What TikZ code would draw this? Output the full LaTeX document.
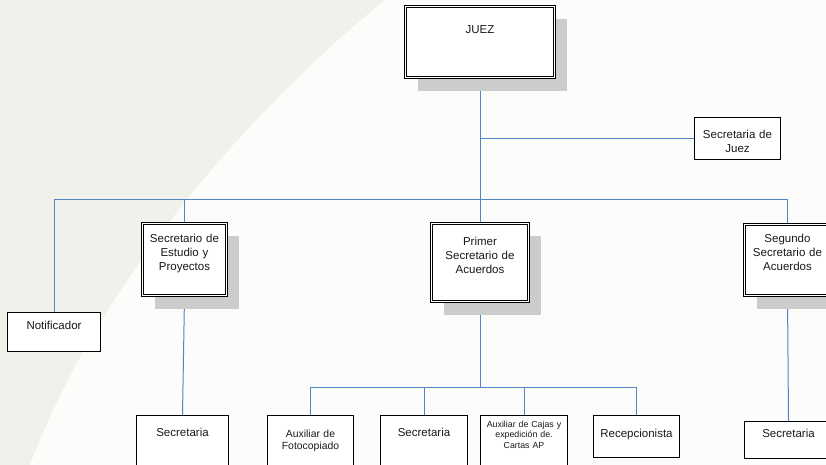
\documentclass[tikz,border=0pt]{standalone}
\usepackage{fontspec}
\setmainfont{Liberation Sans}
\usetikzlibrary{shadows}
\definecolor{bggray}{HTML}{F1F1EB}
\definecolor{bgwhite}{HTML}{FCFCFA}
\definecolor{connblue}{HTML}{5384C8}
\definecolor{shadowgray}{HTML}{CCCCCC}
\pgfdeclarelayer{back}
\pgfdeclarelayer{lines}
\pgfsetlayers{back,lines,main}
\tikzset{
  sbox/.style={rectangle, draw=black, line width=0.8pt, fill=white, inner sep=0pt},
  dbox/.style={rectangle, draw=black, line width=0.7pt, double=white, double distance=1.4pt,
    fill=white, inner sep=0pt,
    drop shadow={shadow xshift=12.5pt, shadow yshift=-13pt, fill=shadowgray, opacity=1}},
  conn/.style={draw=connblue, line width=1pt},
  txt/.style={inner sep=0pt, align=center, anchor=base, text=black!90},
  big/.style={font=\fontsize{11.5}{14}\selectfont},
  midf/.style={font=\fontsize{10.4}{12.5}\selectfont},
  smallf/.style={font=\fontsize{8.8}{10.5}\selectfont},
}
\begin{document}
\begin{tikzpicture}[x=1pt,y=-1pt]
\useasboundingbox (0,0) rectangle (826,465);
\begin{pgfonlayer}{back}
  \fill[bggray] (0,0) rectangle (826,465);
  \fill[bgwhite] (385,0) .. controls (250,110) and (100,280) .. (30,465) -- (826,465) -- (826,0) -- cycle;
\end{pgfonlayer}

% boxes
\node[dbox, minimum width=149.2pt, minimum height=71.2pt] (juez) at (480,42) {};
\node[sbox, minimum width=86.2pt, minimum height=42.2pt] (sjuez) at (737.5,138.5) {};
\node[dbox, minimum width=84.2pt, minimum height=72.2pt] (estudio) at (184.5,259.5) {};
\node[dbox, minimum width=97.2pt, minimum height=78.2pt] (primer) at (480,262.5) {};
\node[dbox, minimum width=86.2pt, minimum height=71.2pt] (segundo) at (787.5,260) {};
\node[sbox, minimum width=93.2pt, minimum height=39.2pt] (notif) at (54,332) {};
\node[sbox, minimum width=92.2pt, minimum height=59.2pt] (sec1) at (182.5,445) {};
\node[sbox, minimum width=86.2pt, minimum height=59.2pt] (foto) at (310.5,445) {};
\node[sbox, minimum width=87.2pt, minimum height=59.2pt] (sec2) at (424,445) {};
\node[sbox, minimum width=87.2pt, minimum height=59.2pt] (cajas) at (524,445) {};
\node[sbox, minimum width=86.2pt, minimum height=42.2pt] (recep) at (636.5,436.5) {};
\node[sbox, minimum width=88.2pt, minimum height=37.2pt] (sec3) at (788.5,440) {};

% texts
\node[txt, big, text width=86pt] (juez-t) at (480,34) {JUEZ};
\node[txt, big, text width=86pt] (sjuez-t) at (737.5,139) {Secretaria de\\Juez};
\node[txt, big, text width=84pt] (estudio-t) at (184.5,242) {Secretario de\\Estudio y\\Proyectos};
\node[txt, big, text width=96pt] (primer-t) at (480,245) {Primer\\Secretario de\\Acuerdos};
\node[txt, big, text width=86pt] (segundo-t) at (787.5,242) {Segundo\\Secretario de\\Acuerdos};
\node[txt, big, text width=90pt] (notif-t) at (54,329) {Notificador};
\node[txt, big, text width=90pt] (sec1-t) at (182.5,436) {Secretaria};
\node[txt, midf, text width=86pt] (foto-t) at (310.5,437) {Auxiliar de\\Fotocopiado};
\node[txt, big, text width=86pt] (sec2-t) at (424,436) {Secretaria};
\node[txt, smallf, text width=87pt] (cajas-t) at (524,427) {Auxiliar de Cajas y\\expedición de.\\Cartas AP};
\node[txt, big, text width=86pt] (recep-t) at (636.5,437) {Recepcionista};
\node[txt, big, text width=86pt] (sec3-t) at (788.5,437) {Secretaria};

% connectors
\coordinate (busy) at (0,199);
\coordinate (lowy) at (0,387);
\begin{pgfonlayer}{lines}
  \draw[conn] (juez.south) -- (primer.north);
  \coordinate (jj) at (juez.south |- sjuez.west);
  \draw[conn] (jj) -- (sjuez.west);
  \draw[conn] (notif.north) -- (notif.north |- busy) -- (segundo.north |- busy) -- (segundo.north);
  \draw[conn] (estudio.north) -- (estudio.north |- busy);
  \draw[conn] (estudio.south) -- (sec1.north);
  \draw[conn] (segundo.south) -- (sec3.north);
  \draw[conn] (primer.south) -- (primer.south |- lowy);
  \draw[conn] (foto.north) -- (foto.north |- lowy) -- (recep.north |- lowy) -- (recep.north);
  \draw[conn] (sec2.north) -- (sec2.north |- lowy);
  \draw[conn] (cajas.north) -- (cajas.north |- lowy);
\end{pgfonlayer}
\end{tikzpicture}
\end{document}
